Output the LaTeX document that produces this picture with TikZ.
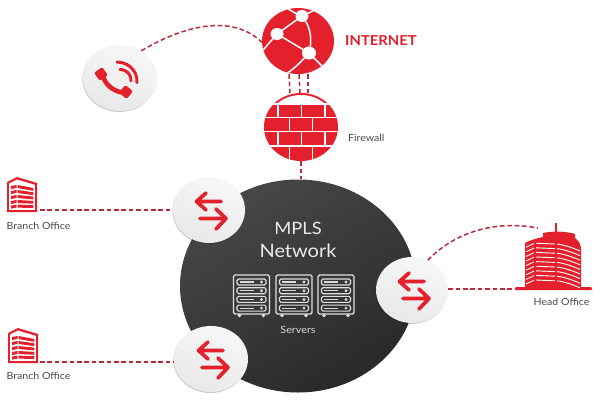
\documentclass[tikz,border=0pt]{standalone}
\usepackage{fontspec}
\setmainfont[FakeStretch=1.08]{Lato}
\usetikzlibrary{shapes.geometric,shadows}
\definecolor{brandred}{HTML}{E4202C}
\definecolor{dashred}{HTML}{B92A3C}
\definecolor{labelgrey}{HTML}{4A4A4A}
\tikzset{
  x=1pt,y=-1pt,
  link/.style={draw=dashred,line width=1.5pt,dash pattern=on 4.6pt off 2.8pt},
  ball/.style={ellipse,inner sep=0pt,minimum width=72pt,minimum height=66pt,
    top color=white!97!black,bottom color=black!9,shading angle=-20,
    drop shadow={shadow xshift=-.6pt,shadow yshift=-1pt,opacity=.2,fill=black}},
  redball/.style={ellipse,inner sep=0pt,fill=brandred},
  whiteline/.style={draw=white,line width=1.5pt},
  swaptip/.style={draw=brandred,line width=3.7pt,line cap=round,line join=round},
  rackline/.style={draw=white!88!black,line width=1.4pt,rounded corners=1.5pt},
  caption/.style={text=labelgrey,font=\fontsize{9.8}{11}\selectfont,inner sep=0pt},
  swap/.pic={
    \draw[swaptip] (12,-8.5) -- (-12.5,-8.5) (-3,-17) -- (-12.5,-8.5) -- (-3,0);
    \draw[swaptip] (-9,8.5) -- (17,8.5) (7,-1) -- (17,8.5) (7,19) -- (17,8.5);
  },
  rack/.pic={
    \draw[rackline] (0,0) rectangle (36,39);
    \foreach \r in {4,12.7,21.4,30.1}{
      \draw[rackline,line width=1.1pt] (3.5,\r) rectangle (32.5,\r+6);
      \draw[white!85!black,line width=1.1pt] (6,\r+3) -- (20,\r+3);
      \fill[white!85!black] (28,\r+3) circle (1.6pt);
    }
    \fill[white!88!black] (6,40.5) circle (1.9pt) (30,40.5) circle (1.9pt);
  },
  branch/.pic={
    \fill[brandred] (0,5) -- (10,0) -- (30,6) -- (30,35) -- (0,35) -- cycle;
    \fill[white] (2.2,6.5) -- (10,2.6) -- (27.8,7.8) -- (27.8,32.8) -- (2.2,32.8) -- cycle;
    \foreach \a/\b in {9/11,14/15.3,19/19.6,24/23.9,28.6/28.2}{
      \fill[brandred] (4,\a) -- (9.5,\a-1) -- (9.5,\a+2) -- (4,\a+3) -- cycle;
      \fill[brandred] (10.5,\a-1) -- (26.3,\b) -- (26.3,\b+2.8) -- (10.5,\a+2) -- cycle;
    }
  },
}
\begin{document}
\begin{tikzpicture}
\useasboundingbox (0,0) rectangle (600,400);
\fill[white] (0,0) rectangle (600,400);

% MPLS cloud
\node[ellipse,inner sep=0pt,minimum width=236pt,minimum height=213pt,
  left color=black!72,right color=black!84,shading angle=30] (mpls) at (298,286) {};

% red discs
\node[redball,minimum width=72pt,minimum height=66pt] (internet) at (298,41) {};
\node[redball,minimum width=74pt,minimum height=68pt] (firewall) at (301,127) {};

% white balls
\node[ball,minimum width=74pt] (phone) at (120,78) {};
\node[ball] (routerA) at (209,210) {};
\node[ball,minimum width=74pt] (routerB) at (211,359) {};
\node[ball] (routerC) at (412,290) {};

% free ends
\coordinate (branchA) at (40,210);
\coordinate (branchB) at (40,362);
\coordinate (headA) at (515,289);
\coordinate (headB) at (538,228);

% connectors
\draw[link] (phone.52) .. controls (190,22) and (235,16) .. (internet.182);
\draw[link] (branchA) -- (routerA.west |- branchA);
\draw[link] (branchB) -- (routerB.west |- branchB);
\draw[link] (routerC.east |- headA) -- (headA);
\draw[link] (routerC.62) .. controls (455,232) and (495,220) .. (headB);
\draw[link] ([xshift=-9pt]internet.south) -- ([xshift=-11pt]firewall.north);
\draw[link] ([xshift=1pt]internet.south) -- ([xshift=-1pt]firewall.north);
\draw[link] ([xshift=10pt]internet.south) -- ([xshift=7pt]firewall.north);
\draw[link,line width=1.7pt] (firewall.south) -- ([xshift=3pt]mpls.north);

% globe
\begin{scope}
  \clip (298,41) ellipse (36pt and 33pt);
  \draw[whiteline] (277,34) -- (302,16) (277,34) -- (309,53);
  \draw[whiteline] (302,16) .. controls (312,28) and (312,42) .. (309,53);
  \draw[whiteline] (277,34) .. controls (272,40) and (266,46) .. (262,52);
  \draw[whiteline] (309,53) .. controls (300,63) and (293,70) .. (284,75);
  \draw[whiteline] (309,53) -- (323,67);
  \draw[whiteline] (302,16) .. controls (296,14) and (290,10) .. (285,7);
  \draw[whiteline] (302,16) -- (317,9);
\end{scope}
\fill[white] (277,34) ellipse (6.5pt and 6pt) (302,16) ellipse (6.5pt and 6pt) (309,53) ellipse (7pt and 6.5pt);

% firewall bricks
\begin{scope}
  \clip (301,127) ellipse (37pt and 34pt);
  \begin{scope}
    \clip (260,90) rectangle (342,104);
    \fill[white] (301,127) ellipse (35pt and 32pt);
  \end{scope}
  \draw[whiteline,line width=1.7pt] (260,104) -- (342,104);
  \draw[whiteline] (260,117.5) -- (342,117.5) (260,131.5) -- (342,131.5) (260,146) -- (342,146);
  \draw[whiteline,line width=1.3pt]
    (278,105) -- (278,117.5) (301.5,105) -- (301.5,117.5) (325,105) -- (325,117.5)
    (289.5,117.5) -- (289.5,131.5) (312.5,117.5) -- (312.5,131.5)
    (278,131.5) -- (278,146) (301.5,131.5) -- (301.5,146) (325,131.5) -- (325,146)
    (289.5,146) -- (289.5,160) (312.5,146) -- (312.5,160);
\end{scope}

% phone icon
\draw[brandred,line width=4.6pt] (103,76) .. controls (105,85) and (115,93) .. (127,93);
\fill[brandred,rounded corners=2pt,rotate around={35:(101,74)}] (96,69) rectangle (106,79);
\fill[brandred,rounded corners=2pt,rotate around={50:(126,92)}] (121,87) rectangle (131,97);
\draw[brandred,line width=3pt,line cap=round] (117,62) arc[start angle=90,end angle=-5,x radius=20pt,y radius=19pt];
\draw[brandred,line width=3pt,line cap=round] (120,69.5) arc[start angle=90,end angle=-5,x radius=11pt,y radius=10.5pt];

% swap arrows
\pic at (209,210) {swap};
\pic at (211,359) {swap};
\pic at (412,290) {swap};

% servers
\pic at (233.5,275) {rack};
\pic at (276,275) {rack};
\pic at (318,275) {rack};

% branches
\pic at (7,177) {branch};
\pic at (8,328) {branch};

% head office
\fill[brandred,rounded corners=1pt] (515,287) rectangle (592,290);
\fill[brandred] (525,288) -- (525,243) .. controls (530,240) and (538,238) .. (543,237)
  -- (543,233) .. controls (552,231) and (565,231) .. (575,234) -- (575,238)
  .. controls (578,240) and (580,242) .. (581,248) -- (581,288) -- cycle;
\draw[brandred,line width=1.2pt] (556,223) -- (556,233);
\foreach \d in {0,1,2,3,4,5,6,7,8}{
  \draw[white,line width=.9pt] (526,246+4.6*\d+1.2) -- (534,243.5+4.6*\d);
  \draw[white,line width=.9pt] (536,243.2+4.6*\d) -- (555,244+4.6*\d);
  \draw[white,line width=.9pt] (557,244+4.6*\d) .. controls (565,245+4.6*\d) and (573,248+4.6*\d) .. (580,251+4.6*\d);
}

% texts
\node[inner sep=0pt,anchor=west,text=brandred,font=\fontsize{13.7}{15}\selectfont\bfseries] (internetlabel) at (345,41) {INTERNET};
\node[caption,anchor=west,font=\fontsize{9.8}{11}\selectfont] (firewalllabel) at (348,137.5) {Firewall};
\node[inner sep=0pt,text=white!92!black,font=\fontsize{17}{20}\selectfont] (mplslabel) at (298,228) {MPLS};
\node[inner sep=0pt,text=white!92!black,font=\fontsize{18.5}{20}\selectfont] (networklabel) at (298,251) {Network};
\node[inner sep=0pt,text=white!85!black,font=\fontsize{10}{11}\selectfont] (serverslabel) at (298,330) {Servers};
\node[caption,anchor=west] (brA) at (6.5,226) {Branch Office};
\node[caption,anchor=west] (brB) at (6.5,376) {Branch Office};
\node[caption,anchor=west] (hoLabel) at (533.5,302) {Head Office};
\end{tikzpicture}
\end{document}
